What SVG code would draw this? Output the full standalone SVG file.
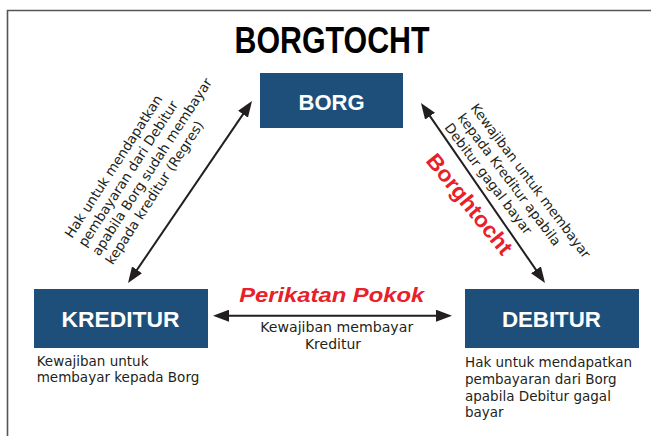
<svg xmlns="http://www.w3.org/2000/svg" width="651" height="436" viewBox="0 0 651 436">
  <style>
    .frame { fill: none; stroke: #555; stroke-width: 1.6; }
    .box { fill: #1e4f7b; }
    .boxlabel { font-family: "Liberation Sans", Arial, sans-serif; font-weight: bold; font-size: 22px; fill: #fff; text-anchor: middle; }
    .title { font-family: "Liberation Sans", Arial, sans-serif; font-weight: bold; font-size: 36px; fill: #000; text-anchor: middle; }
    .note { font-family: "DejaVu Sans", "Liberation Sans", sans-serif; font-size: 13.5px; fill: #231f20; }
    .red { font-family: "Liberation Sans", Arial, sans-serif; font-weight: bold; fill: #e8202a; }
    .link { stroke: #231f20; stroke-width: 2; fill: none; marker-start: url(#head); marker-end: url(#head); }
  </style>
  <defs>
    <marker id="head" markerUnits="userSpaceOnUse" markerWidth="16" markerHeight="12" refX="8" refY="6" orient="auto-start-reverse">
      <path d="M0,0 L16,6 L0,12 Z" fill="#231f20"/>
    </marker>
  </defs>

  <!-- outer frame (top and left rules) -->
  <path class="frame" d="M7.5,436 V10.5 H651"/>

  <text class="title" x="332" y="52.5" textLength="195" lengthAdjust="spacingAndGlyphs">BORGTOCHT</text>

  <!-- connectors -->
  <g id="connectors">
    <line class="link" x1="247.5" y1="107.6" x2="132.5" y2="276.4"/>
    <line class="link" x1="425.5" y1="109.6" x2="540.5" y2="276.4"/>
    <line class="link" x1="221" y1="315.7" x2="444" y2="315.7"/>

    <!-- Borg ↔ Kreditur -->
    <g class="note" transform="translate(72,239) rotate(-57)">
      <text x="0" y="0">Hak untuk mendapatkan</text>
      <text x="0" y="16.2">pembayaran dari Debitur</text>
      <text x="0" y="32.4">apabila Borg sudah membayar</text>
      <text x="0" y="48.6">kepada kreditur (Regres)</text>
    </g>

    <!-- Borg ↔ Debitur -->
    <g class="note" transform="translate(470,108) rotate(53)">
      <text x="0" y="0">Kewajiban untuk membayar</text>
      <text x="0" y="16.3">kepada Kreditur apabila</text>
      <text x="0" y="32.6">Debitur gagal bayar</text>
    </g>
    <text class="red" font-size="22" transform="translate(425,161) rotate(51)" textLength="123" lengthAdjust="spacingAndGlyphs">Borghtocht</text>

    <!-- Kreditur ↔ Debitur -->
    <text class="red" font-size="21" font-style="italic" x="331.7" y="301.7" text-anchor="middle" textLength="185" lengthAdjust="spacingAndGlyphs">Perikatan Pokok</text>
    <g class="note" text-anchor="middle" style="font-size:14px">
      <text x="336.7" y="332.3" textLength="153" lengthAdjust="spacingAndGlyphs">Kewajiban membayar</text>
      <text x="333" y="349">Kreditur</text>
    </g>
  </g>

  <g id="borg">
    <rect class="box" x="260" y="73" width="143" height="55"/>
    <text class="boxlabel" x="331.5" y="110">BORG</text>
  </g>

  <g id="kreditur">
    <rect class="box" x="34" y="289" width="174" height="59"/>
    <text class="boxlabel" x="120.5" y="326.7" textLength="118" lengthAdjust="spacingAndGlyphs">KREDITUR</text>
    <text class="note" x="36.7" y="366">Kewajiban untuk</text>
    <text class="note" x="36.7" y="382.3">membayar kepada Borg</text>
  </g>

  <g id="debitur">
    <rect class="box" x="465" y="289" width="174" height="59"/>
    <text class="boxlabel" x="551.4" y="327.3" textLength="99" lengthAdjust="spacingAndGlyphs">DEBITUR</text>
    <text class="note" x="465" y="367.3">Hak untuk mendapatkan</text>
    <text class="note" x="465" y="384">pembayaran dari Borg</text>
    <text class="note" x="465" y="400.7">apabila Debitur gagal</text>
    <text class="note" x="465" y="417.3">bayar</text>
  </g>
</svg>
